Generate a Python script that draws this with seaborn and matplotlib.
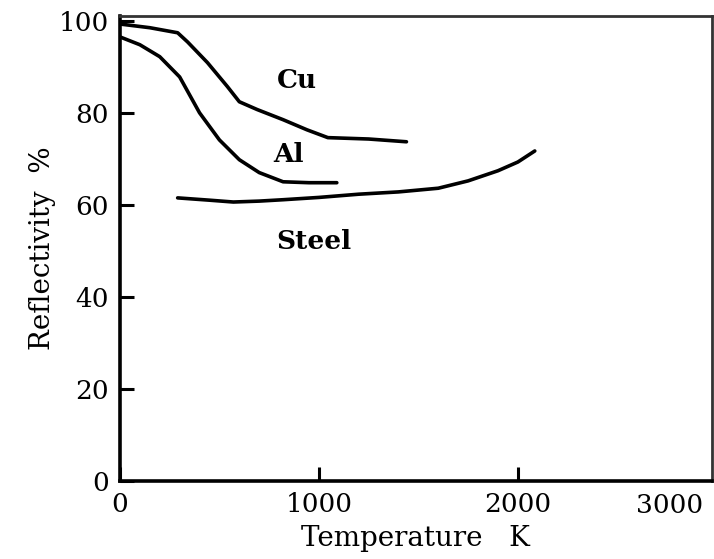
import pandas as pd
import seaborn as sns
import matplotlib.pyplot as plt

sns.set_style("ticks")
plt.rcParams['font.family'] = ['DejaVu Serif']
plt.rcParams['text.color'] = 'black'

# curves (temperature K, reflectivity %)
cu_T = [0, 150, 290, 340, 440, 540, 600, 690, 820, 940, 1045, 1250, 1440]
cu_R = [99.3, 98.5, 97.4, 95.4, 90.9, 85.7, 82.4, 80.7, 78.5, 76.3, 74.6, 74.3, 73.7]

al_T = [0, 100, 200, 300, 400, 500, 600, 700, 820, 950, 1090]
al_R = [96.5, 94.8, 92.2, 87.8, 80.0, 74.1, 69.8, 67.0, 65.0, 64.8, 64.8]

steel_T = [290, 450, 570, 700, 820, 1000, 1200, 1400, 1600, 1750, 1900, 2000, 2085]
steel_R = [61.5, 61.0, 60.6, 60.8, 61.1, 61.6, 62.3, 62.8, 63.6, 65.2, 67.4, 69.3, 71.7]

materials = ["Cu", "Al", "Steel"]
label_pos = {"Cu": (890, 87.0), "Al": (845, 71.0), "Steel": (975, 52.0)}

frames = []
for name, T, R in [("Cu", cu_T, cu_R), ("Al", al_T, al_R), ("Steel", steel_T, steel_R)]:
      frames.append(pd.DataFrame({"T": T, "R": R, "material": name}))
df = pd.concat(frames)

fig = plt.figure(figsize=(7.14, 5.59), dpi=100)
ax = fig.add_axes([0.168, 0.140, 0.829, 0.831])

sns.lineplot(data=df, x="T", y="R", units="material", estimator=None, sort=False,
             color="black", linewidth=2.6, ax=ax)

for name in materials:
      x, y = label_pos[name]
      ax.text(x, y, name, fontsize=19, fontweight="bold", ha="center", va="center")

ax.set_xlim(0, 2975)
ax.set_ylim(0, 101)
ax.set_xticks([0, 1000, 2000])
ax.set_xticklabels(["0", "1000", "2000"])
ax.set_yticks([0, 20, 40, 60, 80, 100])
ax.tick_params(direction="in", length=10, width=2.2, color="black",
               labelcolor="black", labelsize=19, pad=8)
ax.text(0.929, -0.026, "3000", transform=ax.transAxes, fontsize=19,
        ha="center", va="top")

ax.set_xlabel("Temperature   K", fontsize=20, labelpad=6, color="black")
ax.set_ylabel("Reflectivity  %", fontsize=20, labelpad=2, color="black")

for side in ["left", "bottom"]:
      ax.spines[side].set_linewidth(2.6)
      ax.spines[side].set_color("black")
for side in ["top", "right"]:
      ax.spines[side].set_linewidth(2.0)
      ax.spines[side].set_color("#333333")

fig.savefig("out.png", dpi=100)
